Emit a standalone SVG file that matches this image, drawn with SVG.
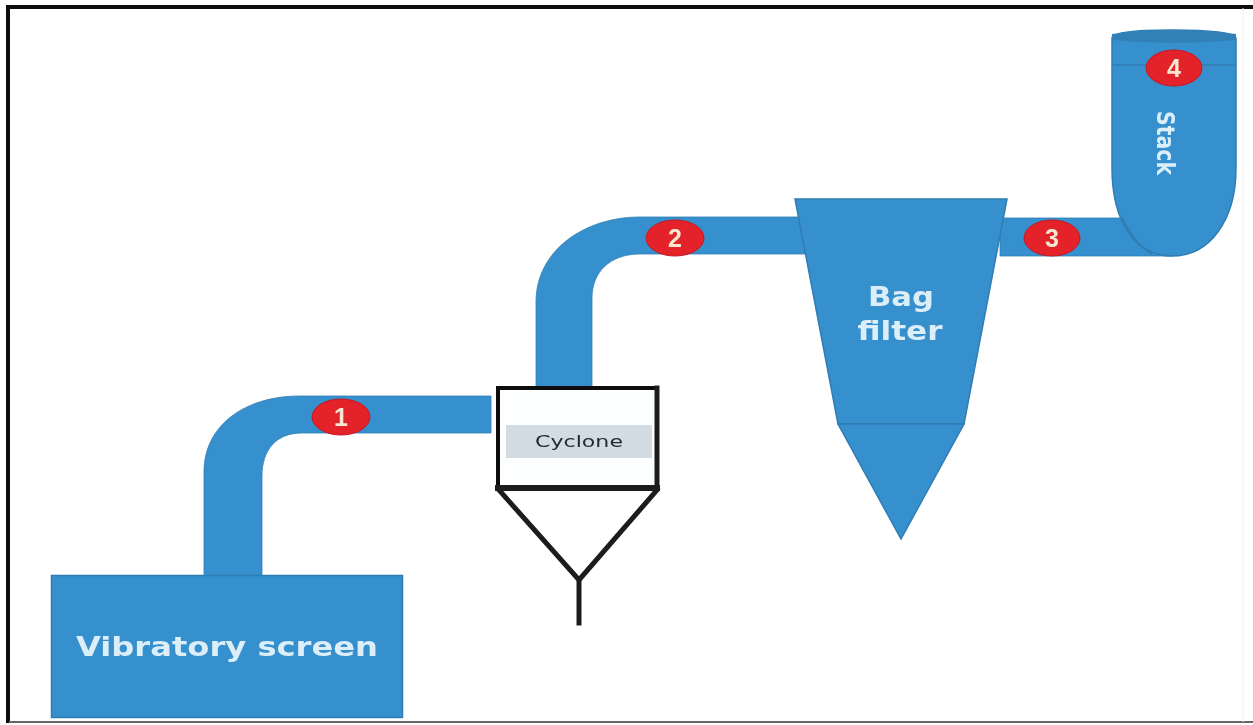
<svg xmlns="http://www.w3.org/2000/svg" width="1253" height="725" viewBox="0 0 1253 725">
<defs><filter id="soft" x="-2%" y="-2%" width="104%" height="104%"><feGaussianBlur stdDeviation="0.7"/></filter></defs>
<style>
.b{fill:#3690cd;stroke:#2f7db3;stroke-width:1.5}
.pipe{fill:#3690cd;stroke:#2f7db3;stroke-width:.8}
.t{fill:#dceef8;font-family:"DejaVu Sans","Liberation Sans",sans-serif;font-weight:700;text-anchor:middle}
.n{fill:#e4202a;stroke:#c41a24;stroke-width:1}
.nt{fill:#f6e6d2;font-family:"Liberation Sans",sans-serif;font-weight:700;font-size:25px;text-anchor:middle}
.k{fill:none;stroke:#1f1f1f;stroke-linecap:square}
</style>
<rect width="1253" height="725" fill="#fff"/>
<g filter="url(#soft)">
<path d="M8 723V7H1253" fill="none" stroke="#111" stroke-width="4"/>
<path d="M9 722H1253" fill="none" stroke="#666" stroke-width="2"/>
<path d="M1243 8V722" fill="none" stroke="#eef2f4" stroke-width="1"/>
<g id="connectors">
<path class="pipe" d="M204 578V472C204 425 245 396 300 396H491V433H302C276 433 262 450 262 476V578Z"/>
<path class="pipe" d="M536 388V302C536 250 585 217 640 217H806V254H640C610 254 592 272 592 298V388Z"/>
<path class="pipe" d="M1000 218H1172V256H1000Z"/>
</g>
<g id="vibratory-screen">
<rect class="b" x="51.500" y="575.500" width="351" height="142"/>
<text class="t" x="227" y="656" font-size="26" textLength="302" lengthAdjust="spacingAndGlyphs">Vibratory screen</text>
</g>
<g id="cyclone">
<rect x="498" y="388" width="159" height="100" fill="#fdfefe" stroke="#111" stroke-width="4"/>
<path d="M498 488H657" class="k" stroke-width="6"/>
<path d="M657 388V488" class="k" stroke-width="5"/>
<rect x="506" y="425" width="146" height="33" fill="#d3dce3"/>
<text x="579" y="447" font-size="15" text-anchor="middle" fill="#232a38" font-family="DejaVu Sans,Liberation Sans,sans-serif" textLength="88" lengthAdjust="spacingAndGlyphs">Cyclone</text>
<path class="k" stroke-width="5" d="M499 490L579 580L657 490"/>
<path class="k" stroke-width="5" d="M579 580V623"/>
</g>
<g id="bag-filter">
<path class="b" d="M795 199H1007L964 424H838Z"/>
<path class="b" d="M838 424H964L901 539Z"/>
<text class="t" x="901" y="306" font-size="26" textLength="66" lengthAdjust="spacingAndGlyphs">Bag</text>
<text class="t" x="900" y="340" font-size="26" textLength="85" lengthAdjust="spacingAndGlyphs">filter</text>
</g>
<g id="stack">
<path class="b" d="M1112 38Q1112 30 1172 30T1236 38V168C1236 220 1210 256 1172 256C1134 256 1112 220 1112 168Z"/>
<path d="M1112 34Q1172 26 1236 34V40Q1172 46 1112 40Z" fill="#3180b8"/>
<path d="M1113 65H1235" fill="none" stroke="#2f7db3" stroke-width="1.500"/>
<path d="M1122 217Q1135 245 1152 254" fill="none" stroke="#2f7db3" stroke-width="1.500"/>
<text class="t" transform="translate(1157 143) rotate(90)" font-size="24" textLength="64" lengthAdjust="spacingAndGlyphs">Stack</text>
</g>
<g id="marker-1"><ellipse class="n" cx="341" cy="417" rx="29" ry="18"/><text class="nt" x="341" y="426">1</text></g>
<g id="marker-2"><ellipse class="n" cx="675" cy="238" rx="29" ry="18"/><text class="nt" x="675" y="247">2</text></g>
<g id="marker-3"><ellipse class="n" cx="1052" cy="238" rx="28" ry="18"/><text class="nt" x="1052" y="247">3</text></g>
<g id="marker-4"><ellipse class="n" cx="1174" cy="68" rx="28" ry="18"/><text class="nt" x="1174" y="77">4</text></g>
</g>
</svg>
